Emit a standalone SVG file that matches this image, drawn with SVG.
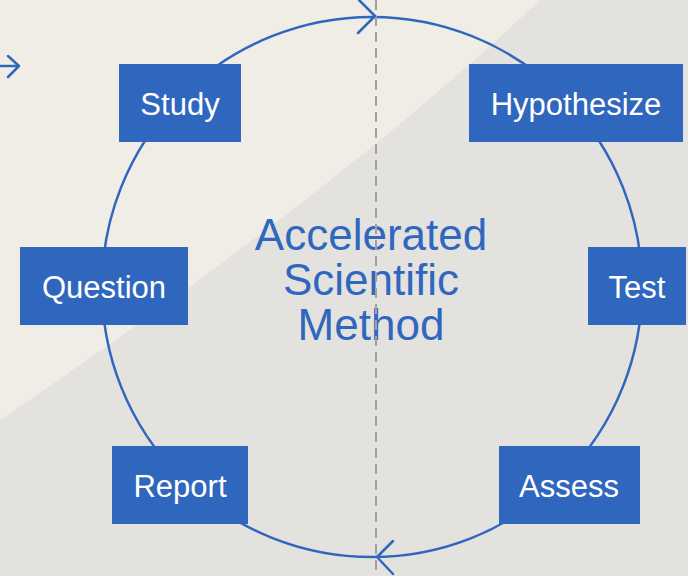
<svg xmlns="http://www.w3.org/2000/svg" width="688" height="576" viewBox="0 0 688 576">
<defs>
<style>
.box{fill:#3067be}
.lbl{font-family:"Liberation Sans",Arial,sans-serif;font-size:31px;fill:#ffffff;text-anchor:middle}
.title{font-family:"Liberation Sans",Arial,sans-serif;font-size:44px;fill:#3067be;text-anchor:middle}
.ring{fill:none;stroke:#3067be;stroke-width:2.5}
.arr{fill:none;stroke:#3067be;stroke-width:2.5;stroke-linecap:round;stroke-linejoin:round}
</style>
</defs>
<rect x="0" y="0" width="688" height="576" fill="#e4e2de"/>
<path d="M0,0 L540,0 Q340,190 0,420 Z" fill="#f0ede7"/>
<g id="title">
<text class="title" x="371" y="250">Accelerated</text>
<text class="title" x="371" y="295">Scientific</text>
<text class="title" x="371" y="340">Method</text>
</g>
<g id="connectors">
<circle class="ring" cx="372" cy="287" r="270"/>
<line x1="376" y1="0" x2="376" y2="576" stroke="#a3a19e" stroke-width="2" stroke-dasharray="10 6"/>
<path class="arr" d="M359,0 L375,16 L358,33"/>
<path class="arr" d="M393,541 L377,557 L393,574"/>
<path class="arr" d="M0,66 L18,66 M8,56 L19,66 L8,77"/>
</g>
<g id="study"><rect class="box" x="119" y="64" width="122" height="78"/><text class="lbl" x="180" y="115">Study</text></g>
<g id="hypothesize"><rect class="box" x="469" y="64" width="214" height="78"/><text class="lbl" x="576" y="115">Hypothesize</text></g>
<g id="question"><rect class="box" x="20" y="247" width="168" height="78"/><text class="lbl" x="104" y="298">Question</text></g>
<g id="test"><rect class="box" x="588" y="247" width="98" height="78"/><text class="lbl" x="637" y="298">Test</text></g>
<g id="report"><rect class="box" x="112" y="446" width="136" height="78"/><text class="lbl" x="180" y="497">Report</text></g>
<g id="assess"><rect class="box" x="499" y="446" width="141" height="78"/><text class="lbl" x="569" y="497">Assess</text></g>
</svg>
